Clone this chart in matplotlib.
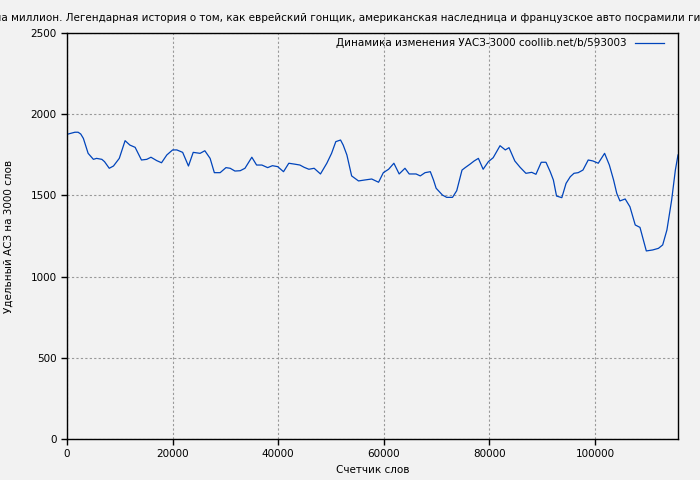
import matplotlib
matplotlib.use('Agg')
import matplotlib.pyplot as plt

# word counter positions and specific ASZ per 3000 words
words = [0, 1500, 2100, 2600, 3100, 3600, 4000, 5000, 5600, 6600, 7100, 8000, 8800, 9900,
         11000, 11900, 12900, 14100, 15100, 15900, 17000, 17900, 18900, 20000, 20800, 21900,
         23000, 23900, 25200, 26100, 27100, 27900, 29000, 30100, 30900, 31800, 32800, 33700,
         35000, 35900, 36900, 38000, 38900, 39900, 41000, 42000, 43200, 44100, 44900, 45800,
         46800, 48000, 49200, 50100, 50900, 51800, 52300, 53000, 53900, 55200, 56400, 57700,
         59000, 59900, 60900, 61900, 62900, 64000, 64800, 66100, 66900, 67800, 68800, 69400,
         69900, 70500, 71100, 71900, 73000, 73800, 74800, 75400, 76300, 77100, 77900, 78800,
         79800, 80700, 82000, 83000, 83700, 84800, 85800, 86900, 88000, 88800, 89800, 90700,
         91500, 92100, 92700, 93700, 94500, 95300, 96000, 96800, 97700, 98700, 99600, 100600,
         101800, 102700, 103500, 104100, 104700, 105700, 106600, 107600, 108500, 109700,
         110900, 112000, 112800, 113600, 114500, 115200, 115700]
asz = [1876, 1889, 1889, 1878, 1851, 1800, 1759, 1722, 1728, 1722, 1708, 1667, 1681, 1728,
       1837, 1810, 1796, 1718, 1722, 1735, 1714, 1701, 1749, 1780, 1780, 1765,
       1681, 1765, 1759, 1775, 1728, 1640, 1640, 1671, 1667, 1650, 1652, 1667,
       1735, 1687, 1687, 1671, 1683, 1677, 1646, 1698, 1692, 1687, 1673, 1661,
       1667, 1632, 1698, 1759, 1831, 1841, 1810, 1749, 1620, 1589, 1595, 1601,
       1581, 1640, 1661, 1698, 1632, 1667, 1632, 1632, 1620, 1640, 1646, 1595,
       1544, 1523, 1502, 1488, 1488, 1529, 1656, 1671, 1692, 1712, 1728, 1661,
       1708, 1732, 1806, 1780, 1794, 1712, 1673, 1636, 1642, 1630, 1704, 1704,
       1646, 1595, 1496, 1486, 1574, 1615, 1636, 1640, 1656, 1718, 1712, 1698,
       1759, 1687, 1595, 1513, 1466, 1478, 1430, 1318, 1303, 1158,
       1164, 1174, 1195, 1287, 1472, 1656, 1749]

title = ("Гонка на миллион. Легендарная история о том, как еврейский гонщик, "
         "американская наследница и французское авто посрамили гитлеровскую Германию")
legend_label = "Динамика изменения УАСЗ-3000 coollib.net/b/593003"

bg = '#f2f2f2'
fig = plt.figure(figsize=(7, 4.8), dpi=100, facecolor=bg)
ax = fig.add_axes([67 / 700, 41 / 480, 611 / 700, 406 / 480], facecolor=bg)

ax.plot(words, asz, color='#0044bb', linewidth=0.9, label=legend_label)

ax.set_xlim(0, 115700)
ax.set_ylim(0, 2500)
ax.set_xticks([0, 20000, 40000, 60000, 80000, 100000])
ax.set_yticks([0, 500, 1000, 1500, 2000, 2500])
ax.tick_params(labelsize=7.5, length=4, width=1, color='black')
ax.grid(True, color='#999999', linestyle=(0, (2, 2)), linewidth=0.8)
for s in ax.spines.values():
    s.set_linewidth(1)

ax.set_xlabel("Счетчик слов", fontsize=7.5, labelpad=4)
ax.set_ylabel("Удельный АСЗ на 3000 слов", fontsize=7.5, labelpad=12)
ax.legend(loc='upper right', frameon=False, fontsize=7.5, markerfirst=False,
          handlelength=2.8, borderaxespad=0.3,
          bbox_to_anchor=(1 - 7 / 611, 1 + 2 / 406))

# the long title is wider than the figure and gets cut at both edges, as in the original
fig.text(0.5596, 462 / 480, title, ha='center', va='center', fontsize=7.5)

fig.savefig('out.png', dpi=100, facecolor=bg)
